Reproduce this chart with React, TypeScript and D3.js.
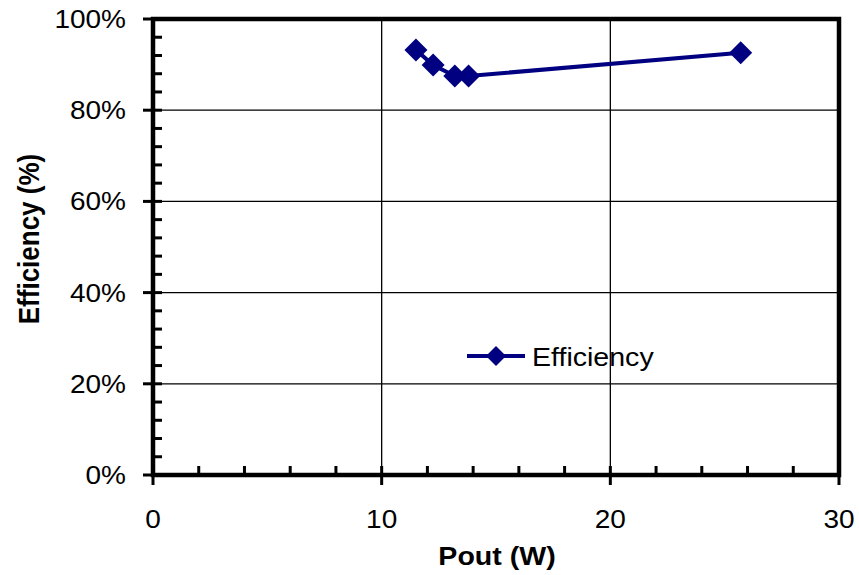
import React from "react";
import * as d3 from "d3";

const poutW = [11.5, 12.25, 13.2, 13.8, 25.7];
const efficiency = [0.932, 0.899, 0.875, 0.875, 0.926];
const xTicks = [0, 10, 20, 30];
const yTicks = [0, 0.2, 0.4, 0.6, 0.8, 1.0];
const xMinor = [2, 4, 6, 8, 12, 14, 16, 18, 22, 24, 26, 28];
const yMinor = [0.04, 0.08, 0.12, 0.16, 0.24, 0.28, 0.32, 0.36, 0.44, 0.48, 0.52, 0.56, 0.64, 0.68, 0.72, 0.76, 0.84, 0.88, 0.92, 0.96];
const seriesName = "Efficiency";

const W = 859, H = 575;
const L = 153, R = 839, T = 19, B = 475;
const color = "#000080";
const font = "Liberation Sans, Arial, sans-serif";
const SX = 1.12;

function diamond(cx: number, cy: number, r: number) {
  return `M${cx},${cy - r}L${cx + r},${cy}L${cx},${cy + r}L${cx - r},${cy}Z`;
}

function HText(props: { x: number; y: number; anchor?: string; size: number; bold?: boolean; children: React.ReactNode }) {
  const { x, y, anchor, size, bold, children } = props;
  return (
    <text transform={`translate(${x},${y}) scale(${SX},1)`} textAnchor={anchor || "start"} fontFamily={font} fontSize={size} fontWeight={bold ? "bold" : "normal"}>
      {children}
    </text>
  );
}

export default function App() {
  const x = d3.scaleLinear().domain([0, 30]).range([L, R]);
  const y = d3.scaleLinear().domain([0, 1]).range([B, T]);
  const pts = poutW.map((p, i) => [x(p), y(efficiency[i])] as [number, number]);
  const line = d3.line()(pts) || "";
  return (
    <svg width={W} height={H} style={{ position: "absolute", left: 0, top: 0 }}>
      <rect width={W} height={H} fill="#fff" />
      {xTicks.slice(1, -1).map((t) => (
        <line key={"gx" + t} x1={x(t)} x2={x(t)} y1={T} y2={B} stroke="#000" strokeWidth={1.3} />
      ))}
      {yTicks.slice(1, -1).map((t) => (
        <line key={"gy" + t} x1={L} x2={R} y1={y(t)} y2={y(t)} stroke="#000" strokeWidth={1.3} />
      ))}
      {xMinor.map((t) => (
        <line key={"mx" + t} x1={x(t)} x2={x(t)} y1={B} y2={B - 9} stroke="#000" strokeWidth={3} />
      ))}
      {yMinor.map((t) => (
        <line key={"my" + t} x1={L} x2={L + 9} y1={y(t)} y2={y(t)} stroke="#000" strokeWidth={3} />
      ))}
      {xTicks.map((t) => (
        <line key={"tx" + t} x1={x(t)} x2={x(t)} y1={B - 9} y2={B + 10} stroke="#000" strokeWidth={3} />
      ))}
      {yTicks.map((t) => (
        <line key={"ty" + t} x1={L - 10} x2={L + 9} y1={y(t)} y2={y(t)} stroke="#000" strokeWidth={3} />
      ))}
      <rect x={L} y={T} width={R - L} height={B - T} fill="none" stroke="#000" strokeWidth={4.5} />
      <path d={line} fill="none" stroke={color} strokeWidth={4} />
      {pts.map(([px, py], i) => (
        <path key={"p" + i} d={diamond(px, py, 11.5)} fill={color} />
      ))}
      {xTicks.map((t) => (
        <HText key={"lx" + t} x={x(t)} y={528} anchor="middle" size={25}>{t}</HText>
      ))}
      {yTicks.map((t) => (
        <HText key={"ly" + t} x={126} y={y(t) + 9} anchor="end" size={25}>{Math.round(t * 100) + "%"}</HText>
      ))}
      <HText x={497} y={565} anchor="middle" size={25.5} bold>Pout (W)</HText>
      <text transform={`translate(39,239) rotate(-90) scale(1,${SX})`} textAnchor="middle" fontFamily={font} fontSize={26} fontWeight="bold">Efficiency (%)</text>
      <line x1={467} x2={525} y1={356} y2={356} stroke={color} strokeWidth={4} />
      <path d={diamond(496, 356, 10)} fill={color} />
      <HText x={532} y={366} size={25.5}>{seriesName}</HText>
    </svg>
  );
}
